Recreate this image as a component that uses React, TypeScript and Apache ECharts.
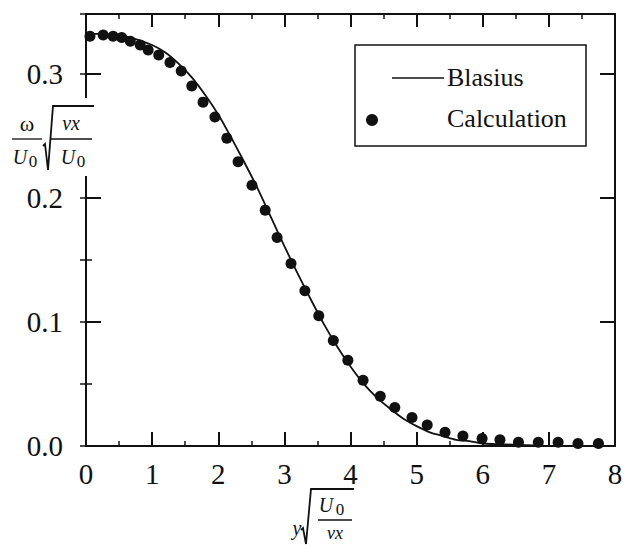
import React, { useEffect, useRef } from "react";
import * as echarts from "echarts";

// Blasius solution
const blasiusEta = [0, 0.2, 0.4, 0.6, 0.8, 1.0, 1.2, 1.4, 1.6, 1.8, 2.0, 2.2, 2.4, 2.6, 2.8, 3.0, 3.2, 3.4, 3.6, 3.8, 4.0, 4.2, 4.4, 4.6, 4.8, 5.0, 5.2, 5.4, 5.6, 5.8, 6.0, 6.5, 7.0, 7.5, 8.0];
const blasiusVal = [0.332, 0.332, 0.331, 0.33, 0.327, 0.323, 0.317, 0.308, 0.297, 0.283, 0.267, 0.248, 0.228, 0.207, 0.184, 0.161, 0.139, 0.118, 0.098, 0.08, 0.064, 0.05, 0.039, 0.03, 0.022, 0.016, 0.011, 0.008, 0.005, 0.004, 0.002, 0.001, 0.0, 0.0, 0.0];

// Calculation points
const calcEta = [0.06, 0.26, 0.41, 0.54, 0.67, 0.82, 0.94, 1.1, 1.27, 1.44, 1.6, 1.77, 1.95, 2.13, 2.3, 2.51, 2.71, 2.89, 3.1, 3.31, 3.52, 3.74, 3.96, 4.19, 4.45, 4.67, 4.93, 5.16, 5.43, 5.7, 5.99, 6.26, 6.54, 6.84, 7.14, 7.44, 7.75];
const calcVal = [0.33, 0.331, 0.33, 0.329, 0.326, 0.323, 0.319, 0.315, 0.309, 0.302, 0.29, 0.277, 0.265, 0.248, 0.229, 0.21, 0.19, 0.168, 0.147, 0.125, 0.105, 0.085, 0.069, 0.053, 0.04, 0.031, 0.023, 0.017, 0.011, 0.008, 0.006, 0.005, 0.003, 0.003, 0.003, 0.002, 0.002];

const legendNames = ["Blasius", "Calculation"];

const FAMILY = "Liberation Serif, Times New Roman, serif";
const INK = "#111";

export default function App() {
  const ref = useRef<HTMLDivElement>(null);
  useEffect(() => {
    document.body.style.margin = "0";
    const chart = echarts.init(ref.current!, null, { renderer: "svg" });
    const yMax = 0.348;
    const xBase = {
      type: "value",
      min: 0,
      max: 8,
      interval: 1,
      axisLine: { show: true, onZero: false, lineStyle: { color: INK, width: 2 } },
      splitLine: { show: false },
      minorTick: { show: true, splitNumber: 2, length: 5, lineStyle: { color: INK, width: 1.5 } },
    };
    const yMajor = {
      type: "value",
      min: 0,
      max: yMax,
      interval: 0.1,
      axisLine: { show: true, onZero: false, lineStyle: { color: INK, width: 2 } },
      splitLine: { show: false },
      axisTick: { show: true, inside: true, length: 15, lineStyle: { color: INK, width: 2 } },
    };
    const yMinor = {
      type: "value",
      min: 0,
      max: yMax,
      interval: 0.05,
      axisLine: { show: false },
      splitLine: { show: false },
      axisLabel: { show: false },
      axisTick: { show: true, inside: true, length: 6, lineStyle: { color: INK, width: 1.5 } },
    };
    const txt = (text: string, x: number, y: number, size: number, italic = false, align = "center") => ({
      type: "text",
      x,
      y,
      z: 60,
      style: {
        text,
        fontSize: size,
        fontFamily: FAMILY,
        fontStyle: italic ? "italic" : "normal",
        fill: INK,
        align,
        verticalAlign: "middle",
      },
    });
    const ln = (x1: number, y1: number, x2: number, y2: number, w = 1.3) => ({
      type: "line",
      z: 60,
      shape: { x1, y1, x2, y2 },
      style: { stroke: INK, lineWidth: w },
    });
    chart.setOption({
      animation: false,
      backgroundColor: "#fff",
      grid: { left: 86, top: 14, width: 529, height: 432, containLabel: false },
      xAxis: [
        {
          ...xBase,
          position: "bottom",
          axisTick: { show: true, inside: true, length: 14, lineStyle: { color: INK, width: 2 } },
          axisLabel: { show: true, fontSize: 29, fontFamily: FAMILY, color: INK, margin: 13 },
        },
        {
          ...xBase,
          position: "top",
          axisTick: { show: true, inside: true, length: 13, lineStyle: { color: INK, width: 2 } },
          axisLabel: { show: false },
        },
      ],
      yAxis: [
        {
          ...yMajor,
          position: "left",
          axisLabel: {
            show: true,
            fontSize: 29,
            fontFamily: FAMILY,
            color: INK,
            margin: 23,
            showMaxLabel: false,
            formatter: (v: number) => (Math.abs(v * 10 - Math.round(v * 10)) < 1e-6 ? v.toFixed(1) : ""),
          },
        },
        { ...yMinor, position: "left", offset: 0 },
        { ...yMajor, position: "right", offset: 0, axisLabel: { show: false } },
        { ...yMinor, position: "right", offset: 0 },
      ],
      series: [
        {
          name: legendNames[0],
          type: "line",
          xAxisIndex: 0,
          yAxisIndex: 0,
          data: blasiusEta.map((e, i) => [e, blasiusVal[i]]),
          showSymbol: false,
          symbol: "none",
          smooth: 0.3,
          lineStyle: { color: INK, width: 1.8 },
          z: 3,
        },
        {
          name: legendNames[1],
          type: "scatter",
          xAxisIndex: 0,
          yAxisIndex: 0,
          data: calcEta.map((e, i) => [e, calcVal[i]]),
          symbol: "circle",
          symbolSize: 11,
          itemStyle: { color: INK, opacity: 1 },
          z: 4,
        },
      ],
      graphic: [
        // legend box
        {
          type: "rect",
          z: 50,
          shape: { x: 355, y: 45, width: 231, height: 101 },
          style: { fill: "#fff", stroke: INK, lineWidth: 1.5 },
        },
        ln(392, 78, 444, 78, 1.5),
        txt(legendNames[0], 447, 77, 26, false, "left"),
        { type: "circle", z: 60, shape: { cx: 372, cy: 120, r: 6 }, style: { fill: INK } },
        txt(legendNames[1], 447, 118, 26, false, "left"),
        // white gap in left axis behind the y-axis name
        { type: "rect", z: 55, shape: { x: 80, y: 98, width: 16, height: 78 }, style: { fill: "#fff" } },
        // y axis name: ω/U0 · sqrt(νx/U0)
        txt("ω", 27, 123, 22),
        ln(12, 139, 42, 139),
        txt("U", 20, 157, 20, true),
        txt("0", 33, 161, 17),
        {
          type: "polyline",
          z: 60,
          shape: { points: [[43, 146], [45, 144], [48, 170], [53, 106], [94, 106]] },
          style: { stroke: INK, lineWidth: 1.8, fill: "none" },
        },
        txt("νx", 71, 123, 20, true),
        ln(51, 139, 92, 139),
        txt("U", 68, 157, 20, true),
        txt("0", 81, 161, 17),
        // x axis name: y sqrt(U0/νx)
        txt("y", 297, 528, 20, true),
        {
          type: "polyline",
          z: 60,
          shape: { points: [[301, 530], [303, 528], [306, 544], [311, 489], [354, 489]] },
          style: { stroke: INK, lineWidth: 1.8, fill: "none" },
        },
        txt("U", 326, 505, 20, true),
        txt("0", 340, 509, 17),
        ln(318, 520, 352, 520),
        txt("νx", 335, 533, 18, true),
      ],
    });
    return () => chart.dispose();
  }, []);
  return <div ref={ref} style={{ width: 628, height: 545 }} />;
}
